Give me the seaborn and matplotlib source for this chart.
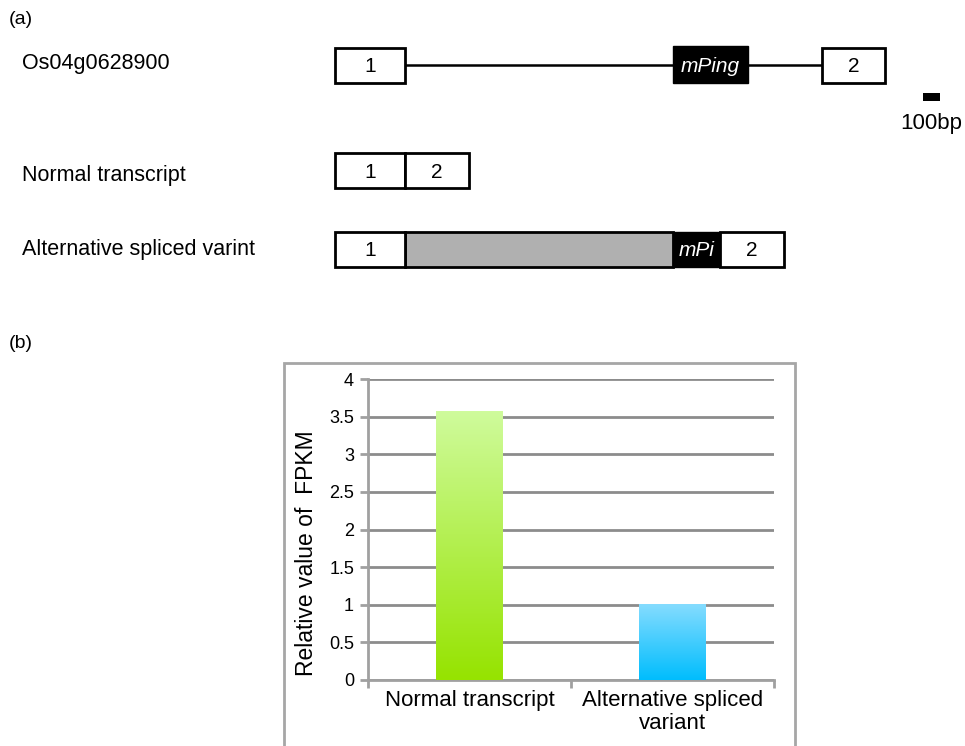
import numpy as np
import matplotlib
matplotlib.use('Agg')
import matplotlib.pyplot as plt
import seaborn as sns
from matplotlib.patches import Rectangle

# (b) bar data
categories = ['Normal transcript', 'Alternative spliced\nvariant']
fpkm = [3.57, 1.0]
grad_top = ['#cffb9c', '#85dcff']
grad_bottom = ['#96e300', '#00bdfd']
y_ticks = [0, 0.5, 1, 1.5, 2, 2.5, 3, 3.5, 4]

# (a) gene structure, segment lengths in drawing units (~bp scale)
row_names = ['Os04g0628900', 'Normal transcript', 'Alternative spliced varint']
gene_kinds = ['exon', 'intron', 'te', 'intron', 'exon']
gene_labels = ['1', '', 'mPing', '', '2']
gene_lens = [70, 268, 75, 74, 63]
normal_kinds = ['exon', 'exon']
normal_labels = ['1', '2']
normal_lens = [70, 64]
alt_kinds = ['exon', 'retained', 'te', 'exon']
alt_labels = ['1', '', 'mPi', '2']
alt_lens = [70, 268, 47, 64]
scale_bar_len = 17

sns.set_theme(style='white')
plt.rcParams['font.family'] = ['Liberation Sans', 'DejaVu Sans']
plt.rcParams['text.color'] = 'black'
plt.rcParams['xtick.color'] = 'black'
plt.rcParams['ytick.color'] = 'black'
plt.rcParams['axes.labelcolor'] = 'black'

W, H = 965, 746
fig = plt.figure(figsize=(W / 100, H / 100), dpi=100)

# ---- panel (a): drawn in pixel-like coordinates
ax0 = fig.add_axes([0, 0, 1, 1])
ax0.set_xlim(0, W)
ax0.set_ylim(H, 0)
ax0.axis('off')

ax0.text(9, 19, '(a)', fontsize=14, va='center', ha='left')
ax0.text(9, 344, '(b)', fontsize=14, va='center', ha='left')

x0 = 335
bh = 35
name_y = [63, 175, 249]
rows = [(gene_kinds, gene_labels, gene_lens, 65),
        (normal_kinds, normal_labels, normal_lens, 170),
        (alt_kinds, alt_labels, alt_lens, 249)]
for name, ny, (kinds, labels, lens, yc) in zip(row_names, name_y, rows):
    ax0.text(22, ny, name, fontsize=15.5, va='center', ha='left')
    x = x0
    for k, lab, ln in zip(kinds, labels, lens):
        if k == 'exon':
            ax0.add_patch(Rectangle((x, yc - bh / 2), ln, bh, facecolor='white',
                                    edgecolor='black', lw=2, zorder=3))
            ax0.text(x + ln / 2, yc + 2, lab, fontsize=15, ha='center', va='center', zorder=4)
        elif k == 'intron':
            ax0.plot([x, x + ln], [yc, yc], color='black', lw=1.8, zorder=2)
        elif k == 'te':
            hh = bh + 2 if len(kinds) == 5 else bh
            ax0.add_patch(Rectangle((x, yc - hh / 2 - (1 if len(kinds) == 5 else 0)), ln, hh,
                                    facecolor='black', edgecolor='black', lw=1, zorder=3))
            ax0.text(x + ln / 2, yc + 1, lab, fontsize=15, ha='center', va='center',
                     color='white', style='italic', zorder=4)
        elif k == 'retained':
            ax0.add_patch(Rectangle((x, yc - bh / 2), ln, bh, facecolor='#b0b0b0',
                                    edgecolor='black', lw=2, zorder=2))
        x += ln

# scale bar
ax0.add_patch(Rectangle((923, 93), scale_bar_len, 8, facecolor='black', edgecolor='none'))
ax0.text(931, 124, '100bp', fontsize=16, ha='center', va='center')

# outer frame of the chart
ax0.add_patch(Rectangle((284, 363), 795 - 284, 400, facecolor='white',
                        edgecolor='#a6a6a6', lw=2, zorder=1))

# ---- panel (b): bar chart
left, right, top, bottom = 368, 774, 379, 680
ax = fig.add_axes([left / W, (H - bottom) / H, (right - left) / W, (bottom - top) / H])
ax.set_facecolor('none')
sns.barplot(x=categories, y=fpkm, width=0.33, ax=ax, zorder=2)

for p, ct, cb in zip(ax.patches, grad_top, grad_bottom):
    bx, by = p.get_x(), p.get_y()
    bw, bht = p.get_width(), p.get_height()
    cmap = matplotlib.colors.LinearSegmentedColormap.from_list('g', [cb, ct])
    grad = np.linspace(0, 1, 256).reshape(-1, 1)
    ax.imshow(grad, cmap=cmap, aspect='auto', origin='lower',
              extent=[bx, bx + bw, by, by + bht], zorder=3)
    p.set_facecolor('none')
    p.set_edgecolor('none')
ax.set_xlim(-0.5, 1.5)
ax.set_ylim(0, 4)

ax.set_yticks(y_ticks)
ax.set_yticklabels([f'{t:g}' for t in y_ticks], fontsize=13)
ax.yaxis.grid(True, color='#8c8c8c', lw=2, zorder=0)
ax.set_axisbelow(True)
for s in ['top', 'right']:
    ax.spines[s].set_visible(False)
for s in ['left', 'bottom']:
    ax.spines[s].set_color('#a0a0a0')
    ax.spines[s].set_linewidth(2)
ax.tick_params(axis='y', which='major', length=6, width=2, color='#a0a0a0', pad=4, left=True)
ax.set_xticks([0, 1])
ax.set_xticklabels(categories, fontsize=16, linespacing=1.15)
ax.set_xticks([-0.5, 0.5, 1.5], minor=True)
ax.tick_params(axis='x', which='major', length=0, pad=7)
ax.tick_params(axis='x', which='minor', length=6, width=2, color='#a0a0a0', bottom=True)
ax.set_ylabel('Relative value of  FPKM', fontsize=16.5)
ax.yaxis.set_label_coords(-0.122, 0.42)

fig.savefig('out.png', dpi=100)
